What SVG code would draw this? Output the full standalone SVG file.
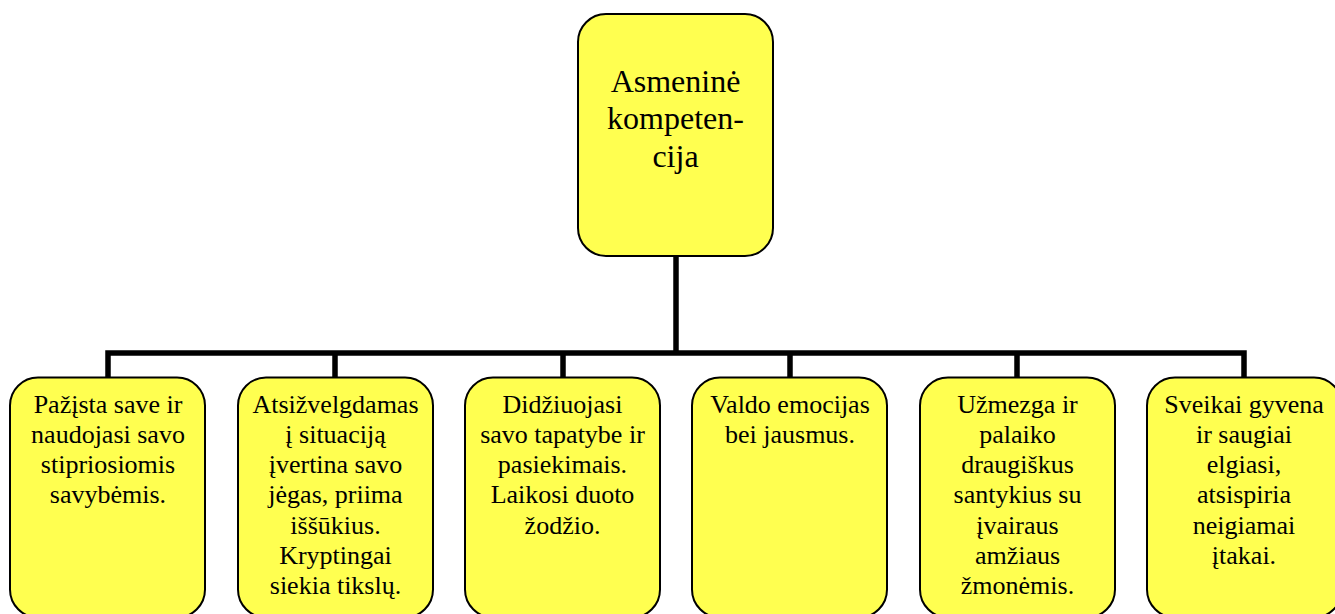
<svg xmlns="http://www.w3.org/2000/svg" width="1335" height="614" viewBox="0 0 1335 614">
<style>
.box{fill:#FFFF50;stroke:#000;stroke-width:2}
.t{font-family:"Liberation Serif","Times New Roman",serif;font-size:26px;fill:#000;text-anchor:middle}
.tt{font-family:"Liberation Serif","Times New Roman",serif;font-size:32px;fill:#000;text-anchor:middle}
.c{fill:none;stroke:#000;stroke-width:5.5;stroke-linecap:butt;stroke-linejoin:miter}
</style>
<rect width="1335" height="614" fill="#fff"/>
<g id="connectors">
<path class="c" d="M676,256 V353"/>
<path class="c" d="M108,378 V353 H1244 V378"/>
<path class="c" d="M335,353 V378 M563,353 V378 M790,353 V378 M1017,353 V378"/>
</g>
<g id="root">
<rect class="box" x="578" y="14" width="195" height="242" rx="28"/>
<text class="tt" x="675.5" y="91.5"><tspan x="675.5">Asmeninė</tspan><tspan x="675.5" dy="37.5">kompeten-</tspan><tspan x="675.5" dy="37.5">cija</tspan></text>
</g>
<g id="n1">
<rect class="box" x="10" y="377.5" width="195" height="240" rx="28"/>
<text class="t" y="412.5"><tspan x="108">Pažįsta save ir</tspan><tspan x="108" dy="30.3">naudojasi savo</tspan><tspan x="108" dy="30.3">stipriosiomis</tspan><tspan x="108" dy="30.3">savybėmis.</tspan></text>
</g>
<g id="n2">
<rect class="box" x="238" y="377.5" width="195" height="240" rx="28"/>
<text class="t" y="412.5"><tspan x="335.5">Atsižvelgdamas</tspan><tspan x="335.5" dy="30.3">į situaciją</tspan><tspan x="335.5" dy="30.3">įvertina savo</tspan><tspan x="335.5" dy="30.3">jėgas, priima</tspan><tspan x="335.5" dy="30.3">iššūkius.</tspan><tspan x="335.5" dy="30.3">Kryptingai</tspan><tspan x="335.5" dy="30.3">siekia tikslų.</tspan></text>
</g>
<g id="n3">
<rect class="box" x="465" y="377.5" width="195" height="240" rx="28"/>
<text class="t" y="412.5"><tspan x="562.5">Didžiuojasi</tspan><tspan x="562.5" dy="30.3">savo tapatybe ir</tspan><tspan x="562.5" dy="30.3">pasiekimais.</tspan><tspan x="562.5" dy="30.3">Laikosi duoto</tspan><tspan x="562.5" dy="30.3">žodžio.</tspan></text>
</g>
<g id="n4">
<rect class="box" x="692" y="377.5" width="195" height="240" rx="28"/>
<text class="t" y="412.5"><tspan x="790">Valdo emocijas</tspan><tspan x="790" dy="30.3">bei jausmus.</tspan></text>
</g>
<g id="n5">
<rect class="box" x="920" y="377.5" width="195" height="240" rx="28"/>
<text class="t" y="412.5"><tspan x="1017.5">Užmezga ir</tspan><tspan x="1017.5" dy="30.3">palaiko</tspan><tspan x="1017.5" dy="30.3">draugiškus</tspan><tspan x="1017.5" dy="30.3">santykius su</tspan><tspan x="1017.5" dy="30.3">įvairaus</tspan><tspan x="1017.5" dy="30.3">amžiaus</tspan><tspan x="1017.5" dy="30.3">žmonėmis.</tspan></text>
</g>
<g id="n6">
<rect class="box" x="1147" y="377.5" width="195" height="240" rx="28"/>
<text class="t" y="412.5"><tspan x="1244">Sveikai gyvena</tspan><tspan x="1244" dy="30.3">ir saugiai</tspan><tspan x="1244" dy="30.3">elgiasi,</tspan><tspan x="1244" dy="30.3">atsispiria</tspan><tspan x="1244" dy="30.3">neigiamai</tspan><tspan x="1244" dy="30.3">įtakai.</tspan></text>
</g>
</svg>
